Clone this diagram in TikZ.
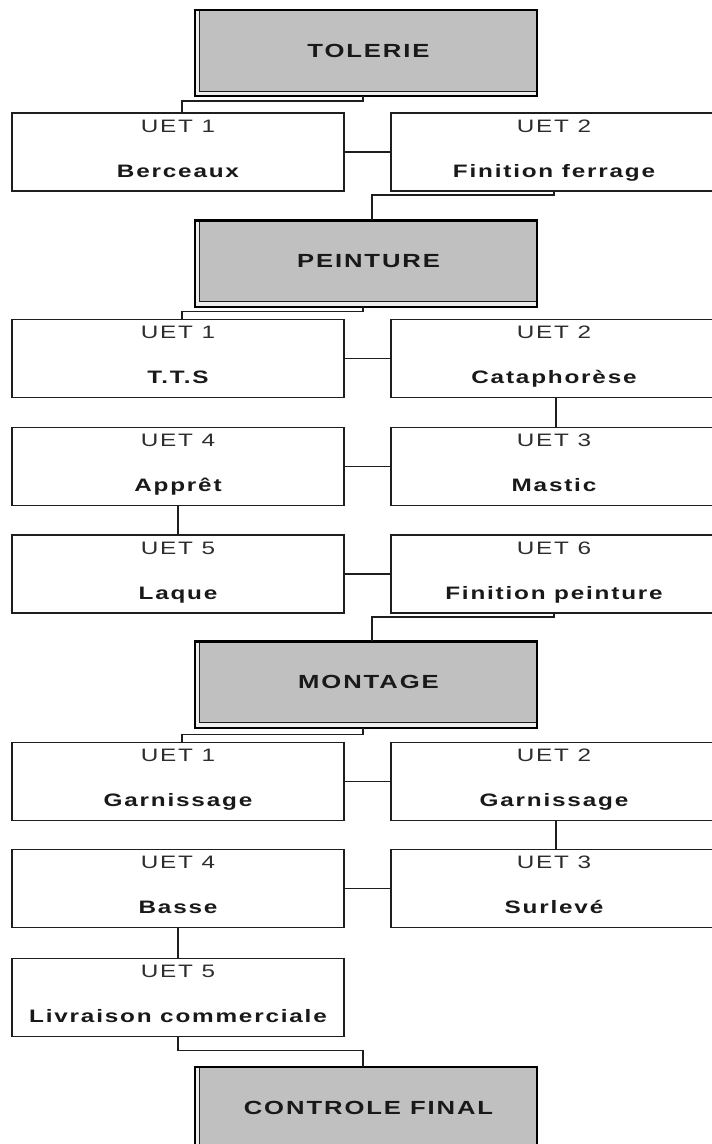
\documentclass[tikz,border=0pt]{standalone}
\usepackage{fontspec}
\setmainfont{Liberation Sans}
\newfontfamily\lab[FakeStretch=1.35,LetterSpace=10]{Liberation Sans}
\usetikzlibrary{calc}
\definecolor{hdrgray}{RGB}{192,192,192}
\definecolor{stripcol}{RGB}{238,238,238}
\definecolor{uetcol}{RGB}{45,45,45}
\definecolor{linecol}{RGB}{30,30,30}
\tikzset{
  box/.style={draw=linecol,line width=1.8pt,fill=white,rectangle,inner sep=0pt,minimum width=332pt,minimum height=78pt},
  rbox/.style={box,minimum width=326pt},
  hdr/.style={rectangle,inner sep=0pt,fill=stripcol,minimum width=342pt,minimum height=86pt},
  hdrtxt/.style={inner sep=0pt,font=\lab\bfseries\fontsize{19}{21}\selectfont,text=black!90},
  uettxt/.style={inner sep=0pt,anchor=base,font=\lab\fontsize{18}{20}\selectfont,text=uetcol},
  nametxt/.style={inner sep=0pt,anchor=base,font=\lab\bfseries\fontsize{18}{20}\selectfont,text=black!90},
  conn/.style={draw=linecol,line width=1.5pt}
}
\newcommand\hdrbox[4]{%
  \node[hdr] (#1) at (#2,#3) {};
  \fill[hdrgray] ([xshift=5pt]#1.north west) rectangle ([yshift=5pt]#1.south east);
  \draw[linecol,line width=1pt] ([xshift=5pt]#1.north west) -- ([xshift=5pt,yshift=5pt]#1.south west) -- ([yshift=5pt]#1.south east);
  \draw[black,line width=2.4pt] (#1.north west) rectangle (#1.south east);
  \node[hdrtxt] (#1t) at ($(#1.center)+(2.5,-2.5)$) {#4};
}
\newcommand\uetbox[6]{%
  \node[#4] (#1) at (#2,#3) {};
  \node[uettxt] (#1u) at ($(#1.north)+(0,20)$) {#5};
  \node[nametxt] (#1n) at ($(#1.north)+(0,65)$) {#6};
}
\begin{document}
\begin{tikzpicture}[x=1pt,y=-1pt]
\useasboundingbox (0,0) rectangle (712,1144);
\clip (0,0) rectangle (712,1144);
\fill[white] (0,0) rectangle (712,1144);

% headers
\hdrbox{tol}{366}{53}{TOLERIE}
\hdrbox{pei}{366}{263.5}{PEINTURE}
\hdrbox{mon}{366}{684.5}{MONTAGE}
\hdrbox{ctl}{366}{1110}{CONTROLE FINAL}

% TOLERIE
\uetbox{a1}{178}{152}{box}{UET 1}{Berceaux}
\uetbox{a2}{554}{152}{rbox}{UET 2}{Finition ferrage}

% PEINTURE
\uetbox{b1}{178}{358.5}{box}{UET 1}{T.T.S}
\uetbox{b2}{554}{358.5}{rbox}{UET 2}{Cataphorèse}
\uetbox{b4}{178}{466.5}{box}{UET 4}{Apprêt}
\uetbox{b3}{554}{466.5}{rbox}{UET 3}{Mastic}
\uetbox{b5}{178}{574}{box}{UET 5}{Laque}
\uetbox{b6}{554}{574}{rbox}{UET 6}{Finition peinture}

% MONTAGE
\uetbox{c1}{178}{781.5}{box}{UET 1}{Garnissage}
\uetbox{c2}{554}{781.5}{rbox}{UET 2}{Garnissage}
\uetbox{c4}{178}{888.5}{box}{UET 4}{Basse}
\uetbox{c3}{554}{888.5}{rbox}{UET 3}{Surlevé}
\uetbox{c5}{178}{997.5}{box}{UET 5}{Livraison commerciale}

% connectors
\draw[conn] ([xshift=-3pt]tol.south) -- ++(0,5) -| ([xshift=4pt]a1.north);
\draw[conn] (a1.east) -- (a2.west);
\draw[conn] (a2.south) -- ++(0,3) -| ([xshift=6pt]pei.north);

\draw[conn] ([xshift=-3pt]pei.south) -- ++(0,5) -| ([xshift=4pt]b1.north);
\draw[conn] (b1.east) -- (b2.west);
\draw[conn] ([xshift=2pt]b2.south) -- ([xshift=2pt]b3.north);
\draw[conn] (b3.west) -- (b4.east);
\draw[conn] (b4.south) -- (b5.north);
\draw[conn] (b5.east) -- (b6.west);
\draw[conn] (b6.south) -- ++(0,3) -| ([xshift=6pt]mon.north);

\draw[conn] ([xshift=-3pt]mon.south) -- ++(0,7) -| ([xshift=4pt]c1.north);
\draw[conn] (c1.east) -- (c2.west);
\draw[conn] ([xshift=2pt]c2.south) -- ([xshift=2pt]c3.north);
\draw[conn] (c3.west) -- (c4.east);
\draw[conn] (c4.south) -- (c5.north);
\draw[conn] (c5.south) -- ++(0,13) -| ([xshift=-3pt]ctl.north);
\end{tikzpicture}
\end{document}
